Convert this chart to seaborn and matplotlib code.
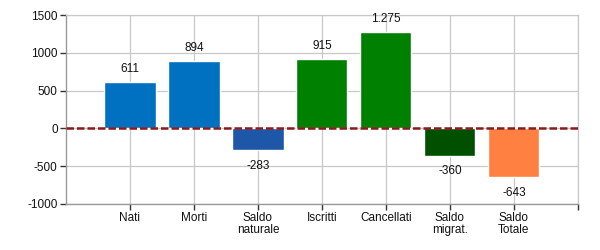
import matplotlib
matplotlib.use("Agg")
import matplotlib.pyplot as plt
import seaborn as sns
import pandas as pd

categories = ["Nati", "Morti", "Saldo\nnaturale", "Iscritti", "Cancellati", "Saldo\nmigrat.", "Saldo\nTotale"]
values = [611, 894, -283, 915, 1275, -360, -643]
labels = ["611", "894", "-283", "915", "1.275", "-360", "-643"]
colors = ["#0070C0", "#0070C0", "#1F57A8", "#008000", "#008000", "#005000", "#FF8040"]
yticks = [-1000, -500, 0, 500, 1000, 1500]

sns.set_theme(style="white")
plt.rcParams["font.family"] = ["Liberation Sans", "DejaVu Sans"]

df = pd.DataFrame({"cat": categories, "val": values})

fig = plt.figure(figsize=(6, 2.5), dpi=100)
ax = fig.add_axes([0.11, 0.184, 0.853, 0.756])

sns.barplot(data=df, x="cat", y="val", hue="cat", palette=colors, legend=False,
            width=0.8, saturation=1, ax=ax, zorder=2)

ax.set_xlim(-1, 7)
ax.set_ylim(-1000, 1500)
ax.set_yticks(yticks)
ax.set_yticklabels([str(v) for v in yticks], fontsize=8.5, color="#111111")
ax.set_xticks(range(8))
ax.set_xticklabels(categories + [""], fontsize=8.5, color="#111111", linespacing=1.0)
ax.set_xlabel("")
ax.set_ylabel("")

ax.grid(True, color="#c8c8c8", linewidth=0.9, zorder=0)
ax.set_axisbelow(True)
for s in ["top", "right"]:
    ax.spines[s].set_color("#c8c8c8")
    ax.spines[s].set_linewidth(0.9)
for s in ["left", "bottom"]:
    ax.spines[s].set_color("#999999")
    ax.spines[s].set_linewidth(1.0)
ax.tick_params(axis="both", which="both", length=4, width=1, color="#333333", pad=2,
               left=True, bottom=True)

ax.axhline(0, color="#8B1A1A", linestyle=(0, (3, 1.2)), linewidth=1.8, zorder=3)

for i, (v, lab) in enumerate(zip(values, labels)):
    if v >= 0:
        ax.annotate(lab, (i, v), xytext=(0, 5), textcoords="offset points",
                    ha="center", va="bottom", fontsize=8.5, color="#111111")
    else:
        ax.annotate(lab, (i, v), xytext=(0, -7), textcoords="offset points",
                    ha="center", va="top", fontsize=8.5, color="#111111")

fig.savefig("out.png", dpi=100)
